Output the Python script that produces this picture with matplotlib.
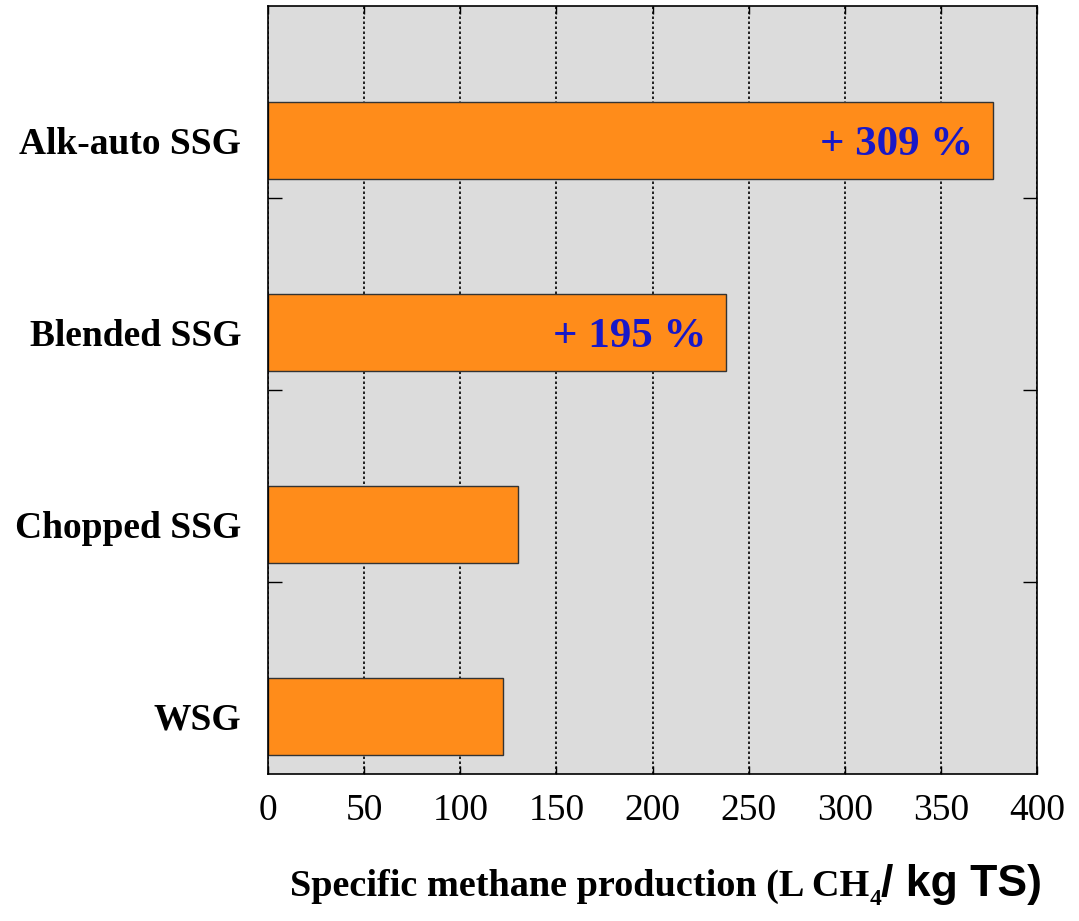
import matplotlib
matplotlib.use("Agg")
import matplotlib.pyplot as plt
import numpy as np

categories = ["WSG", "Chopped SSG", "Blended SSG", "Alk-auto SSG"]
values = [122, 130, 238, 377]
annotations = ["", "", "+ 195 %", "+ 309 %"]
xticks = [0, 50, 100, 150, 200, 250, 300, 350, 400]

W, H = 1079, 921
fig = plt.figure(figsize=(W / 100, H / 100), dpi=100)
fig.patch.set_facecolor("white")
ax = fig.add_axes([268 / W, 1 - 774 / H, (1037 - 268) / W, (774 - 6) / H])
ax.set_facecolor("#dcdcdc")

ypos = np.arange(len(categories)) + 0.3
ax.barh(ypos, values, height=0.4, color="#ff8c1a", edgecolor="#333333",
        linewidth=1.0, zorder=3)

ax.set_xlim(0, 400)
ax.set_ylim(0, 4)
ax.set_xticks(xticks)
ax.set_xticklabels([str(t) for t in xticks], fontfamily="Liberation Serif", fontsize=27)
ax.tick_params(axis="x", direction="in", length=6, top=True, bottom=True, pad=14,
               width=1)
ax.set_yticks([1, 2, 3])
ax.set_yticklabels([])
ax.tick_params(axis="y", direction="in", length=10, left=True, right=True, width=1)
ax.xaxis.grid(True, color="black", linestyle=(0, (1.5, 1.5)), linewidth=1.2, zorder=1)
ax.set_axisbelow(True)
for s in ax.spines.values():
    s.set_color("black")
    s.set_linewidth(1.2)
    s.set_zorder(4)

# category labels
for y, c in zip(ypos, categories):
    ax.annotate(c, xy=(0, y), xycoords=("axes fraction", "data"),
                xytext=(-27, 0), textcoords="offset pixels",
                ha="right", va="center_baseline",
                fontfamily="Liberation Serif", fontweight="bold", fontsize=27,
                annotation_clip=False)

for y, v, a in zip(ypos, values, annotations):
    if a:
        ax.text(v - 10, y, a, ha="right", va="center_baseline", color="#1818c8",
                fontfamily="Liberation Serif", fontweight="bold", fontsize=31,
                zorder=5)

# x label with mixed fonts
fig.canvas.draw()
r = fig.canvas.get_renderer()
yb = 1 - 896 / H
t1 = fig.text(290 / W, yb, "Specific methane production (L CH", ha="left",
              va="baseline", fontfamily="Liberation Serif", fontweight="bold",
              fontsize=27.5)
bb = t1.get_window_extent(r)
t2 = fig.text(bb.x1 / W, yb - 9 / H, "4", ha="left", va="baseline",
              fontfamily="Liberation Serif", fontweight="bold", fontsize=17)
bb2 = t2.get_window_extent(r)
t3 = fig.text(bb2.x1 / W, yb, "/ kg TS)", ha="left", va="baseline",
              fontfamily="Liberation Sans", fontweight="bold", fontsize=32)

fig.savefig("out.png", dpi=100, facecolor="white")
